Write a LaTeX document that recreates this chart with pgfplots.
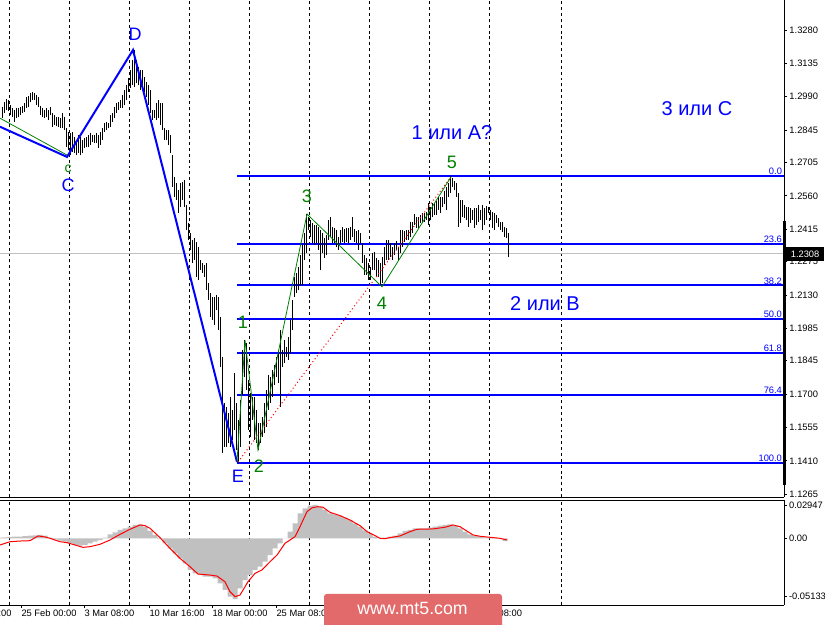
\documentclass[border=0pt]{standalone}
\usepackage{pgfplots}
\pgfplotsset{compat=1.18}
\usepackage{pgfplotstable}
\usepackage{fontspec}
\setmainfont{Liberation Sans}
\definecolor{mtblue}{RGB}{0,0,255}
\definecolor{mtgreen}{RGB}{0,128,0}
\definecolor{mtgray}{RGB}{192,192,192}
\definecolor{mtwm}{RGB}{226,106,106}
\newcommand\tickf{\fontsize{7}{8}\selectfont}
\newcommand\wavef{\fontsize{13.5}{14}\selectfont}
\newcommand\bigf{\fontsize{15}{16}\selectfont}

\pgfplotstableread{
x lo hi
2 1.2898 1.2946
4 1.2920 1.2967
6 1.2933 1.2980
8 1.2928 1.2976
10 1.2911 1.2954
12 1.2902 1.2941
14 1.2881 1.2933
16 1.2898 1.2941
18 1.2902 1.2941
20 1.2911 1.2946
22 1.2920 1.2950
24 1.2924 1.2963
26 1.2941 1.2989
28 1.2946 1.2993
30 1.2967 1.3006
32 1.2976 1.3011
34 1.2976 1.3006
36 1.2954 1.2998
38 1.2946 1.2989
40 1.2911 1.2950
42 1.2902 1.2941
44 1.2898 1.2933
46 1.2902 1.2941
48 1.2889 1.2933
50 1.2911 1.2946
52 1.2859 1.2920
54 1.2868 1.2911
56 1.2863 1.2902
58 1.2859 1.2902
60 1.2854 1.2898
62 1.2854 1.2920
64 1.2846 1.2902
66 1.2772 1.2854
68 1.2759 1.2837
70 1.2737 1.2833
72 1.2750 1.2837
74 1.2746 1.2815
76 1.2737 1.2802
78 1.2746 1.2824
80 1.2737 1.2815
82 1.2746 1.2802
84 1.2768 1.2811
86 1.2772 1.2815
88 1.2772 1.2824
90 1.2781 1.2833
92 1.2794 1.2824
94 1.2789 1.2824
96 1.2789 1.2833
98 1.2768 1.2824
100 1.2781 1.2837
102 1.2802 1.2854
104 1.2837 1.2876
106 1.2846 1.2881
108 1.2854 1.2876
110 1.2859 1.2911
112 1.2881 1.2920
114 1.2898 1.2946
116 1.2920 1.2963
118 1.2933 1.2967
120 1.2941 1.2976
122 1.2941 1.2998
124 1.2954 1.3019
126 1.2976 1.3041
128 1.3011 1.3071
130 1.3028 1.3106
132 1.3041 1.3150
134 1.3032 1.3193
136 1.3050 1.3150
138 1.3041 1.3119
140 1.3019 1.3106
142 1.3032 1.3106
144 1.3011 1.3076
146 1.2989 1.3054
148 1.2954 1.3041
150 1.2920 1.3019
152 1.2889 1.2933
154 1.2898 1.2933
156 1.2889 1.2963
158 1.2898 1.2976
160 1.2868 1.2963
162 1.2846 1.2963
164 1.2802 1.2854
166 1.2802 1.2846
168 1.2781 1.2846
170 1.2746 1.2824
172 1.2598 1.2737
174 1.2555 1.2642
176 1.2542 1.2616
178 1.2486 1.2585
180 1.2512 1.2616
182 1.2542 1.2620
184 1.2512 1.2629
186 1.2412 1.2520
188 1.2368 1.2442
190 1.2325 1.2399
192 1.2269 1.2368
194 1.2282 1.2377
196 1.2208 1.2360
198 1.2195 1.2338
200 1.2238 1.2282
202 1.2225 1.2269
204 1.2208 1.2260
206 1.2151 1.2269
208 1.2108 1.2182
210 1.2034 1.2138
212 1.2021 1.2121
214 1.1999 1.2121
216 1.2065 1.2130
218 1.1978 1.2121
220 1.1817 1.2034
222 1.1444 1.1861
224 1.1470 1.1661
226 1.1470 1.1644
228 1.1487 1.1618
230 1.1470 1.1687
232 1.1500 1.1631
234 1.1544 1.1791
236 1.1457 1.1661
238 1.1402 1.1587
240 1.1470 1.1674
242 1.1696 1.1891
244 1.1774 1.1934
246 1.1717 1.1921
248 1.1544 1.1761
250 1.1513 1.1704
252 1.1587 1.1687
254 1.1500 1.1687
256 1.1487 1.1631
258 1.1457 1.1574
260 1.1487 1.1574
262 1.1513 1.1600
264 1.1531 1.1661
266 1.1557 1.1717
268 1.1631 1.1783
270 1.1661 1.1774
272 1.1687 1.1804
274 1.1739 1.1826
276 1.1774 1.1861
278 1.1748 1.1891
280 1.1644 1.1978
282 1.1817 1.1891
284 1.1835 1.1934
286 1.1861 1.1904
288 1.1848 1.1947
290 1.1878 1.2021
292 1.1978 1.2108
294 1.2121 1.2208
296 1.2138 1.2225
298 1.2151 1.2251
300 1.2173 1.2303
302 1.2173 1.2347
304 1.2282 1.2399
306 1.2312 1.2481
308 1.2412 1.2468
310 1.2381 1.2455
312 1.2355 1.2442
314 1.2347 1.2434
316 1.2355 1.2434
318 1.2325 1.2425
320 1.2238 1.2412
322 1.2312 1.2399
324 1.2290 1.2377
326 1.2303 1.2390
328 1.2368 1.2455
330 1.2381 1.2468
332 1.2355 1.2425
334 1.2355 1.2420
336 1.2338 1.2412
338 1.2325 1.2381
340 1.2355 1.2412
342 1.2360 1.2425
344 1.2355 1.2416
346 1.2360 1.2420
348 1.2355 1.2420
350 1.2368 1.2425
352 1.2381 1.2468
354 1.2360 1.2416
356 1.2355 1.2407
358 1.2325 1.2412
360 1.2355 1.2399
362 1.2269 1.2355
364 1.2217 1.2303
366 1.2217 1.2290
368 1.2195 1.2269
370 1.2195 1.2251
372 1.2238 1.2312
374 1.2238 1.2316
376 1.2208 1.2290
378 1.2208 1.2282
380 1.2169 1.2269
382 1.2182 1.2295
384 1.2260 1.2338
386 1.2282 1.2368
388 1.2282 1.2368
390 1.2295 1.2355
392 1.2282 1.2338
394 1.2303 1.2355
396 1.2325 1.2364
398 1.2282 1.2338
400 1.2312 1.2412
402 1.2338 1.2412
404 1.2360 1.2407
406 1.2368 1.2412
408 1.2368 1.2412
410 1.2381 1.2447
412 1.2399 1.2447
414 1.2434 1.2481
416 1.2420 1.2468
418 1.2420 1.2468
420 1.2442 1.2477
422 1.2442 1.2486
424 1.2447 1.2486
426 1.2455 1.2490
428 1.2434 1.2529
430 1.2455 1.2512
432 1.2468 1.2529
434 1.2477 1.2529
436 1.2477 1.2538
438 1.2499 1.2555
440 1.2486 1.2555
442 1.2512 1.2555
444 1.2525 1.2581
446 1.2499 1.2598
448 1.2555 1.2616
450 1.2572 1.2647
452 1.2598 1.2637
454 1.2585 1.2624
456 1.2555 1.2616
458 1.2425 1.2572
460 1.2442 1.2542
462 1.2468 1.2542
464 1.2464 1.2520
466 1.2455 1.2512
468 1.2425 1.2512
470 1.2442 1.2507
472 1.2455 1.2499
474 1.2420 1.2507
476 1.2434 1.2507
478 1.2447 1.2520
480 1.2455 1.2499
482 1.2412 1.2520
484 1.2434 1.2507
486 1.2455 1.2516
488 1.2486 1.2512
490 1.2455 1.2499
492 1.2420 1.2490
494 1.2412 1.2486
496 1.2442 1.2477
498 1.2425 1.2464
500 1.2412 1.2447
502 1.2403 1.2447
504 1.2381 1.2425
506 1.2377 1.2420
508 1.2295 1.2399
}\bars

\pgfplotstableread{
x v
0 0.0006
5 0.0009
10 0.0012
15 0.0014
20 0.0015
25 0.0020
30 0.0024
35 0.0027
40 0.0030
45 0.0024
50 0.0006
55 -0.0009
60 -0.0021
65 -0.0030
70 -0.0044
75 -0.0059
80 -0.0065
85 -0.0059
90 -0.0044
95 -0.0030
100 -0.0015
105 0.0006
110 0.0035
115 0.0053
120 0.0074
125 0.0089
130 0.0103
135 0.0118
140 0.0124
145 0.0103
150 0.0065
155 0.0030
160 -0.0006
165 -0.0044
170 -0.0089
175 -0.0133
180 -0.0177
185 -0.0221
190 -0.0280
195 -0.0310
200 -0.0325
205 -0.0339
210 -0.0339
215 -0.0354
220 -0.0398
225 -0.0457
230 -0.0516
235 -0.0537
240 -0.0443
245 -0.0369
250 -0.0325
255 -0.0280
260 -0.0251
265 -0.0207
270 -0.0148
275 -0.0089
280 -0.0044
285 0.0000
290 0.0059
295 0.0133
300 0.0221
305 0.0266
310 0.0289
315 0.0295
320 0.0280
325 0.0251
330 0.0221
335 0.0212
340 0.0201
345 0.0183
350 0.0162
355 0.0133
360 0.0103
365 0.0071
370 0.0044
375 0.0015
380 0.0000
385 0.0006
390 0.0015
395 0.0024
400 0.0044
405 0.0065
410 0.0074
415 0.0089
420 0.0089
425 0.0089
430 0.0094
435 0.0103
440 0.0112
445 0.0118
450 0.0124
455 0.0112
460 0.0089
465 0.0059
470 0.0035
475 0.0024
480 0.0015
485 0.0009
490 0.0009
495 0.0006
500 0.0000
505 -0.0024
}\hist

\pgfplotstableread{
x v
0 -0.0059
10 -0.0030
20 -0.0024
30 -0.0021
38 0.0021
45 0.0012
50 0.0000
60 -0.0030
67 -0.0038
75 -0.0059
83 -0.0080
90 -0.0074
100 -0.0053
110 -0.0015
120 0.0035
130 0.0080
140 0.0118
145 0.0112
150 0.0089
160 0.0006
170 -0.0089
180 -0.0177
190 -0.0251
198 -0.0316
210 -0.0325
217 -0.0334
225 -0.0384
230 -0.0472
235 -0.0516
240 -0.0502
248 -0.0384
255 -0.0310
262 -0.0280
270 -0.0207
277 -0.0148
285 -0.0044
290 -0.0015
295 0.0015
300 0.0103
307 0.0236
312 0.0270
318 0.0280
323 0.0275
330 0.0230
340 0.0201
350 0.0162
360 0.0112
367 0.0059
375 0.0024
380 0.0000
385 -0.0003
390 0.0006
400 0.0021
410 0.0059
417 0.0080
433 0.0083
445 0.0098
453 0.0118
460 0.0103
473 0.0030
480 0.0018
490 0.0009
500 0.0000
507 -0.0015
}\sig

\begin{document}
\begin{tikzpicture}
\useasboundingbox (0,0) rectangle (618.75pt,468.75pt);
% ---------------- main price panel ----------------
\begin{axis}[
  at={(0pt,96pt)}, anchor=south west,
  scale only axis, width=588pt, height=372.75pt,
  xmin=0, xmax=784, ymin=1.1253, ymax=1.3410,
  clip=false, scaled y ticks=false, scaled x ticks=false,
  axis line style={draw=none},
  xtick={9,69,129,189,249,309,369,429,489,561},
  xticklabels={}, xtick style={draw=none},
  xmajorgrids,
  major x grid style={black, line width=0.6pt, dash pattern=on 2.2pt off 2.2pt},
  ytick={1.1265,1.1410,1.1555,1.1700,1.1845,1.1985,1.2130,1.2275,1.2415,1.2560,1.2705,1.2845,1.2990,1.3135,1.3280},
  yticklabels={1.1265,1.1410,1.1555,1.1700,1.1845,1.1985,1.2130,1.2275,1.2415,1.2560,1.2705,1.2845,1.2990,1.3135,1.3280},
  ytick pos=right, yticklabel pos=right,
  ytick style={draw=black, line width=0.6pt},
  major tick length=2.4pt, tick align=outside,
  yticklabel style={font=\tickf, anchor=west, inner sep=1.5pt},
]
% current price line
\addplot[mtgray, line width=0.75pt] coordinates {(0,1.2308) (784,1.2308)};
% Fibonacci levels
\addplot[mtblue, line width=1.5pt] coordinates {(237,1.2647) (784,1.2647)};
\addplot[mtblue, line width=1.5pt] coordinates {(237,1.2353) (784,1.2353)};
\addplot[mtblue, line width=1.5pt] coordinates {(237,1.2171) (784,1.2171)};
\addplot[mtblue, line width=1.5pt] coordinates {(237,1.2025) (784,1.2025)};
\addplot[mtblue, line width=1.5pt] coordinates {(237,1.1878) (784,1.1878)};
\addplot[mtblue, line width=1.5pt] coordinates {(237,1.1696) (784,1.1696)};
\addplot[mtblue, line width=1.5pt] coordinates {(237,1.1402) (784,1.1402)};
% price bars (high-low)
\addplot[black, line width=0.75pt, quiver={u=0, v=\thisrow{hi}-\thisrow{lo}}, -] table[x=x, y=lo] {\bars};
% wave lines
\addplot[mtgreen, line width=0.6pt] coordinates {(0,1.2897) (67,1.2737)};
\addplot[mtblue, line width=1.5pt] coordinates {(0,1.2860) (67,1.2729) (133,1.3193) (237,1.1405)};
\addplot[red, line width=0.75pt, dotted] coordinates {(238,1.1405) (450,1.2637)};
\addplot[mtgreen, line width=0.6pt] coordinates {(237,1.1405) (245,1.1934) (258,1.1457) (307,1.2481) (382,1.2165) (451,1.2642)};
% right axis lines
\draw[black, line width=0.6pt] (rel axis cs:1,0) -- (rel axis cs:1,1);
\draw[black, line width=0.6pt] (rel axis cs:0,0) -- (rel axis cs:1,0);
\draw[black, line width=2.2pt] (axis cs:784.5,1.2451) -- (axis cs:784.5,1.1305);
% fib labels
\node[anchor=south east, text=mtblue, font=\tickf, inner sep=0.6pt] at (axis cs:783,1.2647) {0.0};
\node[anchor=south east, text=mtblue, font=\tickf, inner sep=0.6pt] at (axis cs:783,1.2353) {23.6};
\node[anchor=south east, text=mtblue, font=\tickf, inner sep=0.6pt] at (axis cs:783,1.2171) {38.2};
\node[anchor=south east, text=mtblue, font=\tickf, inner sep=0.6pt] at (axis cs:783,1.2025) {50.0};
\node[anchor=south east, text=mtblue, font=\tickf, inner sep=0.6pt] at (axis cs:783,1.1878) {61.8};
\node[anchor=south east, text=mtblue, font=\tickf, inner sep=0.6pt] at (axis cs:783,1.1696) {76.4};
\node[anchor=south east, text=mtblue, font=\tickf, inner sep=0.6pt] at (axis cs:783,1.1402) {100.0};
% wave labels
\node[text=mtgreen, font=\fontsize{10.5}{11}\selectfont, inner sep=0pt] at (axis cs:68,1.2679) {c};
\node[text=mtblue, font=\wavef, inner sep=0pt] at (axis cs:68,1.2605) {C};
\node[text=mtblue, font=\wavef] at (axis cs:135,1.3262) {D};
\node[text=mtblue, font=\wavef] at (axis cs:238,1.1344) {E};
\node[text=mtgreen, font=\wavef] at (axis cs:243,1.2013) {1};
\node[text=mtgreen, font=\wavef] at (axis cs:259,1.1388) {2};
\node[text=mtgreen, font=\wavef] at (axis cs:307,1.2559) {3};
\node[text=mtgreen, font=\wavef] at (axis cs:382,1.2095) {4};
\node[text=mtgreen, font=\wavef] at (axis cs:452,1.2707) {5};
\node[text=mtblue, font=\bigf] at (axis cs:452,1.2833) {1 или A?};
\node[text=mtblue, font=\bigf] at (axis cs:545,1.2091) {2 или B};
\node[text=mtblue, font=\bigf] at (axis cs:697,1.2937) {3 или C};
% current price box
\node[anchor=west, fill=black, text=white, font=\tickf, inner sep=1pt, minimum width=29pt, minimum height=10pt] at (axis cs:785.5,1.2308) {1.2308};
\end{axis}
% ---------------- oscillator panel ----------------
\begin{axis}[
  at={(0pt,15pt)}, anchor=south west,
  scale only axis, width=588pt, height=78.75pt,
  xmin=0, xmax=784, ymin=-0.0590, ymax=0.0339,
  clip=false, scaled y ticks=false, scaled x ticks=false,
  axis line style={draw=none},
  xtick={21,84,149,212,276,340,404,468},
  xticklabels={25 Feb 00:00, 3 Mar 08:00, 10 Mar 16:00, 18 Mar 00:00, 25 Mar 08:00, {}, {}, 16 Apr 08:00},
  xtick pos=left,
  xtick style={draw=black, line width=0.6pt},
  xticklabel style={font=\tickf, anchor=north west, inner sep=1pt, xshift=-0.8pt},
  extra x ticks={9,69,129,189,249,309,369,429,489,561},
  extra x tick labels={},
  extra x tick style={grid=major, xtick style={draw=none}},
  major x grid style={black, line width=0.6pt, dash pattern=on 2.2pt off 2.2pt},
  ytick={-0.05133,0,0.02947},
  yticklabels={-0.05133,0.00,0.02947},
  ytick pos=right, yticklabel pos=right,
  ytick style={draw=black, line width=0.6pt},
  major tick length=2.4pt, tick align=outside,
  yticklabel style={font=\tickf, anchor=west, inner sep=1.2pt},
]
\addplot[ybar, bar width=5, fill=mtgray, draw=none] table[x=x, y=v] {\hist};
\addplot[red, line width=0.75pt] table[x=x, y=v] {\sig};
\draw[black, line width=0.6pt] (rel axis cs:1,0) -- (rel axis cs:1,1);
\draw[black, line width=0.6pt] (rel axis cs:0,0) -- (rel axis cs:1,0);
\draw[black, line width=0.6pt] (rel axis cs:0,1) -- (rel axis cs:1,1);
\node[anchor=north west, font=\tickf, inner sep=1pt] at ([yshift=-2.4pt]axis cs:-45,-0.0590) {17 Feb 16:00};
\end{axis}
% watermark
\fill[mtwm, rounded corners=2pt] (243pt,-3pt) rectangle (376.5pt,23.25pt);
\node[text=white, font=\fontsize{13.3}{14}\selectfont] at (309.4pt,12.2pt) {www.mt5.com};
\end{tikzpicture}
\end{document}
